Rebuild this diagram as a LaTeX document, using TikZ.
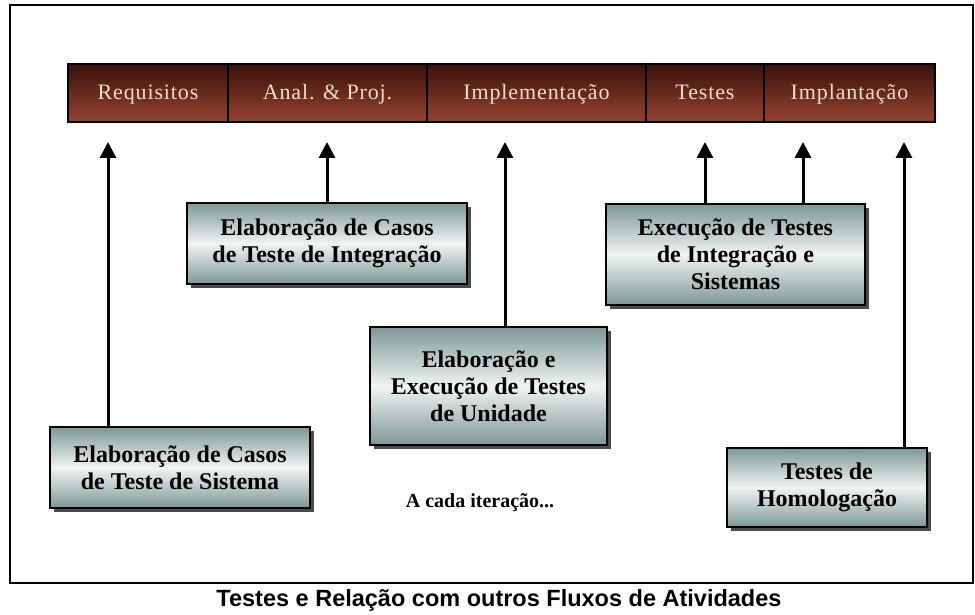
\documentclass[tikz,border=0pt]{standalone}
\usepackage{fontspec}
\setmainfont{Liberation Serif}
\newfontfamily\capfont{Liberation Sans}
\newfontfamily\barfont[LetterSpace=4]{Liberation Serif}
\usepackage{tikz}
\usetikzlibrary{arrows.meta, positioning, shadows}
\definecolor{barmaroon}{RGB}{150,67,47}
\definecolor{bardark}{RGB}{58,18,12}
\definecolor{bartext}{RGB}{242,220,203}
\definecolor{boxteal}{RGB}{125,152,149}
\definecolor{boxlight}{RGB}{240,244,243}
\tikzset{
    phaseblock/.style={rectangle, draw=black, line width=1.2pt, top color=bardark, bottom color=barmaroon, minimum height=58pt, minimum width=#1, inner sep=0pt, outer sep=0pt, text height=17pt, text depth=3pt, text=bartext, font=\barfont\fontsize{22}{26}\selectfont},
    testblock/.style={rectangle, draw=black, line width=1.4pt, top color=boxteal, bottom color=boxteal, middle color=boxlight, align=center, inner sep=2pt, font=\bfseries\fontsize{24}{27}\selectfont, drop shadow={shadow xshift=4pt, shadow yshift=-4pt, fill=black!70, opacity=1}},
    uparrow/.style={-{Triangle[length=16pt, width=16pt]}, line width=3pt}
}

\begin{document}
\begin{tikzpicture}[x=1pt, y=-1pt]
\useasboundingbox (0,0) rectangle (975,615);
\fill[white] (0,0) rectangle (975,615);
\draw[line width=1.5pt] (10,5) rectangle (973,583);

% phases
\node[phaseblock=160pt] (req) at (148,93) {Requisitos};
\node[phaseblock=199pt, right=0pt of req] (anal) {Anal. \& Proj.};
\node[phaseblock=219pt, right=0pt of anal] (impl) {Implementação};
\node[phaseblock=118pt, right=0pt of impl] (test) {Testes};
\node[phaseblock=171pt, right=0pt of test] (impla) {Implantação};

% test activities
\node[testblock, minimum width=260pt, minimum height=81pt] (casosis) at (180,467.5) {Elaboração de Casos\\de Teste de Sistema};
\node[testblock, minimum width=280pt, minimum height=81pt] (casoint) at (327,243.5) {Elaboração de Casos\\de Teste de Integração};
\node[testblock, minimum width=237pt, minimum height=118pt] (unid) at (488.5,386) {Elaboração e\\Execução de Testes\\de Unidade};
\node[testblock, minimum width=259pt, minimum height=101pt] (execint) at (735.5,254.5) {Execução de Testes\\de Integração e\\Sistemas};
\node[testblock, minimum width=200pt, minimum height=79pt] (homolog) at (827,487.5) {Testes de\\Homologação};
\node[font=\bfseries\fontsize{20}{24}\selectfont] (iter) at (480,503) {A cada iteração...};

\coordinate (t1) at (108,142);
\coordinate (t2) at (327,142);
\coordinate (t3) at (505,142);
\coordinate (t4) at (705,142);
\coordinate (t5) at (803,142);
\coordinate (t6) at (904,142);
\draw[uparrow] (t1 |- casosis.north) -- (t1);
\draw[uparrow] (t2 |- casoint.north) -- (t2);
\draw[uparrow] (t3 |- unid.north) -- (t3);
\draw[uparrow] (t4 |- execint.north) -- (t4);
\draw[uparrow] (t5 |- execint.north) -- (t5);
\draw[uparrow] (t6 |- homolog.north) -- (t6);

\node[font=\capfont\bfseries\fontsize{23.5}{26}\selectfont] (caption) at (499,600) {Testes e Relação com outros Fluxos de Atividades};

\end{tikzpicture}
\end{document}
